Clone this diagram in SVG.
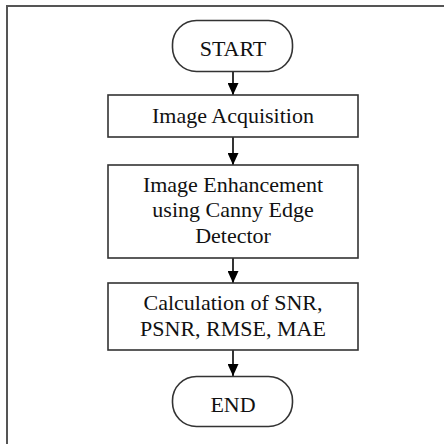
<svg xmlns="http://www.w3.org/2000/svg" width="444" height="444" viewBox="0 0 444 444">
<defs>
<style>
.frame{fill:none;stroke:#555;stroke-width:2}
.shape{fill:#fff;stroke:#333;stroke-width:1.6}
.edge{stroke:#000;stroke-width:1.6;fill:none;marker-end:url(#ah)}
text{font-family:"Liberation Serif","Times New Roman",serif;font-size:22px;fill:#111;text-anchor:middle}
</style>
<marker id="ah" viewBox="0 0 12 11" refX="12" refY="5.5" markerWidth="12" markerHeight="11" markerUnits="userSpaceOnUse" orient="auto">
<path d="M0,0 L12,5.5 L0,11 Z" fill="#000"/>
</marker>
</defs>
<rect width="444" height="444" fill="#fff"/>
<path class="frame" d="M7,444 V6 H444"/>
<g id="connectors">
<line class="edge" x1="233" y1="71" x2="233" y2="95"/>
<line class="edge" x1="233" y1="137" x2="233" y2="165"/>
<line class="edge" x1="233" y1="258" x2="233" y2="283"/>
<line class="edge" x1="233" y1="350" x2="233" y2="376"/>
</g>
<g id="start">
<rect class="shape" x="172.5" y="20.5" width="120" height="51" rx="24" ry="24"/>
<text x="233" y="56">START</text>
</g>
<g id="acquisition">
<rect class="shape" x="108" y="95" width="250" height="42"/>
<text x="233" y="123">Image Acquisition</text>
</g>
<g id="enhancement">
<rect class="shape" x="108" y="165" width="250" height="93"/>
<text x="233" y="192">Image Enhancement</text>
<text x="233" y="217">using Canny Edge</text>
<text x="233" y="243">Detector</text>
</g>
<g id="calculation">
<rect class="shape" x="108" y="283" width="250" height="67"/>
<text x="233" y="310">Calculation of SNR,</text>
<text x="233" y="336">PSNR, RMSE, MAE</text>
</g>
<g id="end">
<rect class="shape" x="172.5" y="376.5" width="120" height="50" rx="24" ry="24"/>
<text x="233" y="412">END</text>
</g>
</svg>
